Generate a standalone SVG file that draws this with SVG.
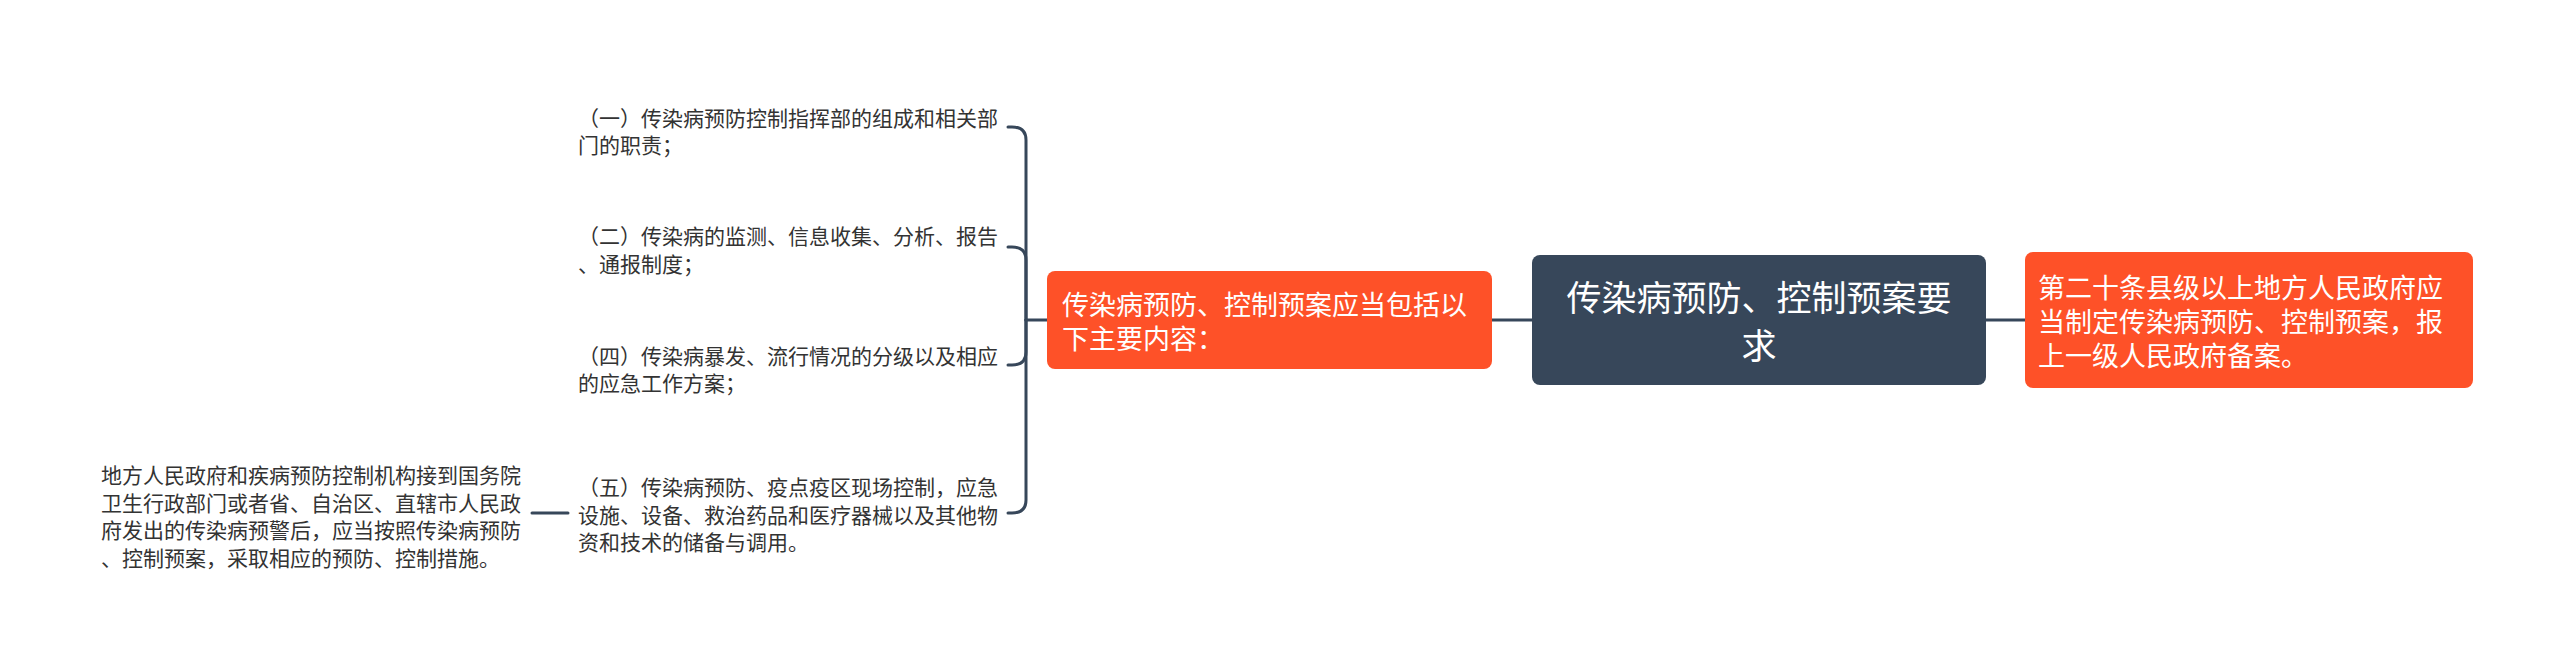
<svg xmlns="http://www.w3.org/2000/svg" width="2560" height="667" viewBox="0 0 2560 667">
<style>
text{font-family:"Noto Sans CJK SC","Noto Sans",sans-serif;dominant-baseline:central}
.leaf{font-size:21px;fill:#333333}
.sub{font-size:27px;fill:#ffffff}
.root{font-size:35px;fill:#ffffff}
.conn{fill:none;stroke:#37475a;stroke-width:3;stroke-linecap:round}
.orange{fill:#fe5128}
.dark{fill:#37475a}
</style>
<rect width="2560" height="667" fill="#ffffff"/>
<g id="connectors">
<path class="conn" d="M1492,320 L1532,320"/>
<path class="conn" d="M1986,320 L2025,320"/>
<path class="conn" d="M1047,320 L1026,320"/>
<path class="conn" d="M1026,320 L1026,140 Q1026,127 1012,127 L1008,127"/>
<path class="conn" d="M1026,320 L1026,260 Q1026,247 1012,247 L1008,247"/>
<path class="conn" d="M1026,320 L1026,352 Q1026,365 1012,365 L1008,365"/>
<path class="conn" d="M1026,320 L1026,500 Q1026,513 1012,513 L1008,513"/>
<path class="conn" d="M532,513 L568,513"/>
</g>
<g id="root">
<rect class="dark" x="1532" y="255" width="454" height="130" rx="8"/>
<text class="root" x="1759" y="295" text-anchor="middle">传染病预防、控制预案要</text>
<text class="root" x="1759" y="343" text-anchor="middle">求</text>
</g>
<g id="right-node">
<rect class="orange" x="2025" y="252" width="448" height="136" rx="8"/>
<text class="sub" x="2038" y="286">第二十条县级以上地方人民政府应</text>
<text class="sub" x="2038" y="320">当制定传染病预防、控制预案，报</text>
<text class="sub" x="2038" y="354">上一级人民政府备案。</text>
</g>
<g id="left-node">
<rect class="orange" x="1047" y="271" width="445" height="98" rx="8"/>
<text class="sub" x="1062" y="303">传染病预防、控制预案应当包括以</text>
<text class="sub" x="1062" y="337">下主要内容：</text>
</g>
<g id="leaf1">
<text class="leaf" x="578" y="117">（一）传染病预防控制指挥部的组成和相关部</text>
<text class="leaf" x="578" y="144">门的职责；</text>
</g>
<g id="leaf2">
<text class="leaf" x="578" y="235">（二）传染病的监测、信息收集、分析、报告</text>
<text class="leaf" x="578" y="263">、通报制度；</text>
</g>
<g id="leaf4">
<text class="leaf" x="578" y="355">（四）传染病暴发、流行情况的分级以及相应</text>
<text class="leaf" x="578" y="382">的应急工作方案；</text>
</g>
<g id="leaf5">
<text class="leaf" x="578" y="486">（五）传染病预防、疫点疫区现场控制，应急</text>
<text class="leaf" x="578" y="513.5">设施、设备、救治药品和医疗器械以及其他物</text>
<text class="leaf" x="578" y="541">资和技术的储备与调用。</text>
</g>
<g id="leaf5-note">
<text class="leaf" x="101" y="474">地方人民政府和疾病预防控制机构接到国务院</text>
<text class="leaf" x="101" y="501.5">卫生行政部门或者省、自治区、直辖市人民政</text>
<text class="leaf" x="101" y="529">府发出的传染病预警后，应当按照传染病预防</text>
<text class="leaf" x="101" y="556.5">、控制预案，采取相应的预防、控制措施。</text>
</g>
</svg>
